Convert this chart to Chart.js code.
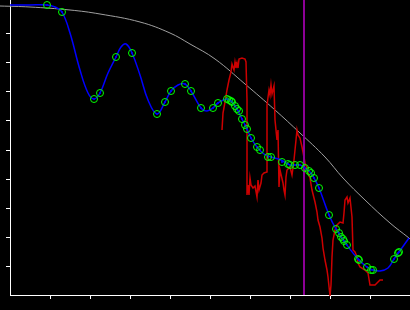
<!DOCTYPE html>
<html>
<head>
    <title>Fit chart</title>
    <script src="https://cdn.jsdelivr.net/npm/chart.js"></script>
    <style>
        body { margin: 0; background: #000; }
        .chart-container { width: 410px; height: 310px; }
    </style>
</head>
<body>
    <div class="chart-container">
        <canvas id="fitChart"></canvas>
    </div>

    <script>
        // values (x, y in plot units)
        const curveX = [-10, 20, 60, 90, 130, 160, 180, 205, 235, 265, 290, 315, 333, 355, 380, 399, 400];
        const curveY = [289, 288, 285, 281, 273, 262, 251, 236, 211, 185, 162, 138, 117, 95, 72, 57, 56];

        const fitX = [0, 20, 37, 45, 52, 60, 70, 78, 84, 90, 98, 106, 111, 116, 122, 130, 138, 147, 155, 161, 168, 175, 181, 191, 197, 203, 208, 217, 222, 227, 232, 237, 241, 247, 254, 261, 271, 280, 290, 295, 301, 304, 309, 319, 326, 334, 348, 357, 363, 370, 378, 384, 389, 399];
        const fitY = [290, 290, 290, 288, 283, 262, 225, 202, 196, 202, 222, 238, 248, 251, 242, 220, 195, 181, 193, 204, 210, 211, 204, 187, 184, 187, 192, 196, 193, 186, 176, 166, 157, 148, 141, 138, 135, 130, 130, 127, 122, 117, 107, 80, 66, 54, 36, 28, 25, 24, 27, 36, 43, 57];

        const markX = [37, 52, 84, 90, 106, 122, 147, 155, 161, 175, 181, 191, 203, 208, 217, 219, 221, 222, 225, 227, 229, 232, 235, 237, 241, 247, 250, 258, 261, 272, 278, 280, 285, 290, 295, 299, 301, 304, 309, 319, 326, 329, 331, 333, 334, 337, 348, 349, 357, 361, 363, 384, 388, 389];
        const markY = [290, 283, 196, 202, 238, 242, 181, 193, 204, 211, 204, 187, 187, 192, 196, 195, 194, 193, 189, 186, 184, 176, 170, 166, 157, 148, 145, 138, 138, 133, 131, 130, 130, 130, 127, 124, 122, 117, 107, 80, 66, 62, 58, 56, 54, 50, 36, 35, 28, 25, 25, 36, 42, 43];

        const rawX = [212, 213, 215, 217, 219, 221, 222, 224, 225, 226, 227, 228, 229, 232, 235, 236, 237, 237, 238, 239, 240, 241, 243, 245, 247, 248, 249, 251, 252, 254, 257, 257, 259, 260, 261, 262, 264, 265, 267, 268, 269, 270, 273, 274, 275, 276, 277, 280, 282, 284, 286, 287, 288, 290, 292, 293, 295, 297, 298, 300, 302, 305, 307, 308, 310, 312, 313, 315, 317, 318, 320, 321, 322, 323, 325, 327, 330, 333, 334, 335, 337, 338, 340, 342, 343, 345, 347, 348, 350, 355, 358, 360, 365, 367, 370, 373];
        const rawY = [165, 182, 193, 205, 215, 223, 231, 225, 233, 227, 232, 227, 236, 237, 236, 233, 195, 100, 110, 100, 117, 110, 107, 109, 98, 115, 105, 112, 120, 122, 123, 190, 205, 200, 210, 201, 209, 175, 155, 165, 108, 125, 112, 105, 100, 118, 125, 128, 120, 135, 155, 165, 160, 157, 148, 143, 132, 127, 122, 117, 105, 93, 83, 75, 68, 57, 47, 35, 25, 18, -1, 10, 38, 55, 65, 70, 73, 72, 82, 95, 98, 92, 97, 78, 45, 43, 38, 32, 28, 25, 22, 10, 10, 12, 15, 15];

        const cutX = 294;

        const pts = (xs, ys) => xs.map((x, i) => ({ x: x, y: ys[i] }));

        new Chart(document.getElementById('fitChart'), {
            type: 'scatter',
            data: {
                datasets: [
                    {
                        data: pts(markX, markY),
                        pointRadius: 3.5,
                        pointBorderWidth: 1,
                        pointBorderColor: '#00ff00',
                        pointBackgroundColor: 'rgba(0,0,0,0)',
                        order: 0
                    },
                    {
                        data: pts(markX, markY),
                        pointRadius: 1,
                        pointBorderWidth: 0,
                        pointBackgroundColor: '#0000ff',
                        order: 1
                    },
                    {
                        data: pts(fitX, fitY),
                        showLine: true,
                        borderColor: '#0000ff',
                        borderWidth: 1.5,
                        pointRadius: 0,
                        tension: 0.4,
                        order: 2
                    },
                    {
                        data: [{ x: cutX, y: 0 }, { x: cutX, y: 295 }],
                        showLine: true,
                        borderColor: '#8c0096',
                        borderWidth: 2,
                        pointRadius: 0,
                        order: 3
                    },
                    {
                        data: pts(rawX, rawY),
                        showLine: true,
                        borderColor: '#cc0000',
                        borderWidth: 1.5,
                        pointRadius: 0,
                        tension: 0,
                        clip: false,
                        order: 4
                    },
                    {
                        data: pts(curveX, curveY),
                        showLine: true,
                        borderColor: '#a0a0a0',
                        borderWidth: 1,
                        pointRadius: 0,
                        tension: 0.4,
                        clip: false,
                        order: 5
                    }
                ]
            },
            options: {
                responsive: true,
                maintainAspectRatio: false,
                animation: false,
                layout: { autoPadding: false, padding: { left: 6, right: 0, top: 0, bottom: 11 } },
                plugins: {
                    legend: { display: false },
                    tooltip: { enabled: false }
                },
                scales: {
                    x: {
                        type: 'linear',
                        min: 0,
                        max: 400,
                        border: { color: '#fff', width: 1 },
                        grid: { drawOnChartArea: false, color: '#fff', tickLength: 4 },
                        ticks: { display: false, stepSize: 40 },
                        afterBuildTicks: s => { s.ticks = s.ticks.filter(t => t.value > 0); }
                    },
                    y: {
                        min: 0,
                        max: 295,
                        border: { color: '#fff', width: 1 },
                        grid: { drawOnChartArea: false, color: '#fff', tickLength: 4 },
                        ticks: { display: false, stepSize: 29 },
                        afterBuildTicks: s => { s.ticks = s.ticks.filter(t => t.value > 0 && t.value % 29 === 0); }
                    }
                }
            }
        });
    </script>
</body>
</html>
